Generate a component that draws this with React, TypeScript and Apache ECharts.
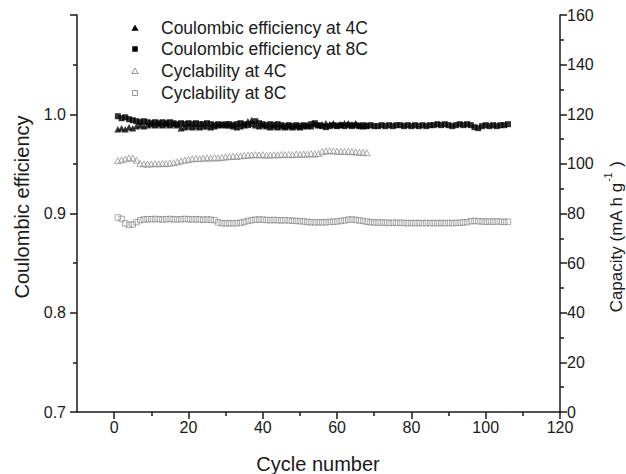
import React, { useEffect, useRef } from "react";
import * as echarts from "echarts";

// ---- Data ----
const ce4C: number[] = [
  0.985, 0.986, 0.985, 0.987, 0.986, 0.988, 0.989, 0.988, 0.989, 0.990,
  0.989, 0.990, 0.989, 0.990, 0.989, 0.990, 0.989, 0.986, 0.987, 0.988,
  0.987, 0.988, 0.987, 0.988, 0.988, 0.987, 0.988, 0.989, 0.990, 0.989,
  0.989, 0.988, 0.987, 0.988, 0.989, 0.993, 0.994, 0.989, 0.988, 0.989,
  0.988, 0.987, 0.988, 0.987, 0.988, 0.987, 0.988, 0.987, 0.988, 0.987,
  0.988, 0.989, 0.988, 0.990, 0.989, 0.990, 0.991, 0.990, 0.991, 0.989,
  0.990, 0.991, 0.991, 0.990, 0.991, 0.989, 0.988, 0.989,
];

const ce8C: number[] = [
  0.998, 0.996, 0.997, 0.995, 0.994, 0.993, 0.992, 0.993, 0.992, 0.991,
  0.992, 0.991, 0.992, 0.991, 0.992, 0.991, 0.990, 0.991, 0.990, 0.991,
  0.990, 0.991, 0.990, 0.990, 0.991, 0.990, 0.989, 0.990, 0.989, 0.990,
  0.990, 0.989, 0.990, 0.991, 0.990, 0.989, 0.990, 0.993, 0.991, 0.990,
  0.989, 0.990, 0.989, 0.990, 0.989, 0.988, 0.989, 0.988, 0.989, 0.988,
  0.989, 0.988, 0.990, 0.991, 0.989, 0.988, 0.987, 0.988, 0.989, 0.988,
  0.989, 0.988, 0.989, 0.988, 0.989, 0.988, 0.989, 0.988, 0.989, 0.988,
  0.988, 0.989, 0.988, 0.989, 0.988, 0.989, 0.989, 0.988, 0.989, 0.988,
  0.989, 0.988, 0.989, 0.988, 0.989, 0.989, 0.990, 0.989, 0.990, 0.989,
  0.988, 0.989, 0.990, 0.989, 0.990, 0.989, 0.987, 0.986, 0.988, 0.989,
  0.988, 0.989, 0.988, 0.989, 0.989, 0.990,
];

const cap4C: number[] = [
  101.3, 101.6, 102.0, 102.4, 102.3, 101.5,
  100.2, 100.0, 99.9, 100.0, 100.1, 100.0, 100.2, 100.1, 100.3, 100.5,
  100.8, 101.2, 101.5, 101.8, 102.0, 102.2, 102.1, 102.3, 102.4, 102.3,
  102.5, 102.4, 102.6, 102.8, 102.9, 103.1, 103.0, 103.2, 103.4, 103.5,
  103.6, 103.7, 103.6, 103.7, 103.5, 103.6, 103.7, 103.6, 103.8, 103.7,
  103.8, 103.7, 103.9, 103.8, 104.0, 103.9, 104.1, 104.0, 104.2, 104.9,
  105.2, 105.3, 105.2, 105.1, 105.0, 105.1, 105.0, 104.9, 104.8, 104.7, 104.6, 104.5,
];

const cap8C: number[] = [
  78.4, 77.8,
  76.0, 75.4, 75.6, 76.5,
  77.3, 77.6, 77.7, 77.7, 77.8, 77.7, 77.6, 77.7, 77.8, 77.7, 77.6, 77.7, 77.8, 77.7, 77.6, 77.7, 77.6, 77.5, 77.6, 77.5, 77.3,
  76.4, 76.1, 76.0, 76.1, 76.0, 76.1, 76.3, 76.6, 77.0,
  77.3, 77.5, 77.6, 77.5, 77.4, 77.3, 77.4, 77.3, 77.2, 77.3, 77.2, 77.1, 77.0, 76.9, 76.8,
  76.6, 76.5, 76.4, 76.5, 76.4, 76.5, 76.6, 76.7, 76.8, 77.0, 77.2,
  77.5, 77.6, 77.4, 77.2, 77.0, 76.7,
  76.5, 76.4, 76.3, 76.4, 76.3, 76.2, 76.3, 76.2, 76.3, 76.2,
  76.1, 76.2, 76.1, 76.2, 76.1, 76.2, 76.1, 76.2, 76.1, 76.2,
  76.1, 76.2, 76.1, 76.2, 76.3, 76.4, 76.5,
  76.9, 77.0, 76.9, 76.8, 76.7, 76.8, 76.7, 76.8, 76.7, 76.6, 76.7,
];

const xMajorTicks: number[] = [0, 20, 40, 60, 80, 100, 120];
const xMinorTicks: number[] = [10, 30, 50, 70, 90, 110];
const legendNames: string[] = [
  "Coulombic efficiency at 4C",
  "Coulombic efficiency at 8C",
  "Cyclability at 4C",
  "Cyclability at 8C",
];

const FONT = "'Liberation Sans', Arial, Helvetica, sans-serif";
const INK = "#1a1a1a";
const GRAY = "#7a7a7a";

const toPairs = (arr: number[]) => arr.map((v, i) => [i + 1, v]);

export default function App() {
  const ref = useRef<HTMLDivElement>(null);

  useEffect(() => {
    if (!ref.current) return;
    const chart = echarts.init(ref.current, null, { renderer: "svg" });

    const axisLineStyle = { color: INK, width: 1.5 };
    const labelStyle = { color: INK, fontSize: 16, fontFamily: FONT, lineHeight: 14 };

    const legendRowsY = [28, 49, 71, 93];
    const iconX = 135;
    const textX = 161;

    const legendGraphics: any[] = [];
    legendNames.forEach((name, i) => {
      const cy = legendRowsY[i];
      let icon: any;
      if (i === 0 || i === 2) {
        icon = {
          type: "polygon",
          shape: { points: [[iconX, cy - 3], [iconX + 3.2, cy + 2.5], [iconX - 3.2, cy + 2.5]] },
          style: i === 0 ? { fill: "#000", stroke: "#000", lineWidth: 0.5 } : { fill: "none", stroke: GRAY, lineWidth: 0.8 },
        };
      } else {
        icon = {
          type: "rect",
          shape: { x: iconX - 2.5, y: cy - 2.5, width: 5, height: 5 },
          style: i === 1 ? { fill: "#000", stroke: "#000", lineWidth: 0.5 } : { fill: "none", stroke: GRAY, lineWidth: 0.8 },
        };
      }
      legendGraphics.push(icon);
      legendGraphics.push({
        type: "text",
        x: textX,
        y: cy,
        style: {
          text: name,
          fill: INK,
          fontSize: 17.5,
          fontFamily: FONT,
          align: "left",
          textAlign: "left",
          verticalAlign: "middle",
          textVerticalAlign: "middle",
        },
      });
    });

    const option: any = {
      animation: false,
      backgroundColor: "#ffffff",
      grid: { left: 77, right: 66, top: 15, bottom: 62, containLabel: false },
      xAxis: [
        {
          type: "value",
          min: -10,
          max: 120,
          position: "bottom",
          axisLine: { show: true, onZero: false, lineStyle: axisLineStyle },
          axisTick: { show: true, customValues: xMajorTicks, length: 7, lineStyle: axisLineStyle },
          axisLabel: { show: true, customValues: xMajorTicks, margin: 8, ...labelStyle },
          splitLine: { show: false },
        },
        {
          type: "value",
          min: -10,
          max: 120,
          position: "bottom",
          axisLine: { show: false, onZero: false },
          axisTick: { show: true, customValues: xMinorTicks, length: 4, lineStyle: axisLineStyle },
          axisLabel: { show: false },
          splitLine: { show: false },
        },
      ],
      yAxis: [
        {
          type: "value",
          min: 0.7,
          max: 1.1,
          interval: 0.1,
          position: "left",
          axisLine: { show: true, onZero: false, lineStyle: axisLineStyle },
          axisTick: { show: true, length: 7, lineStyle: axisLineStyle },
          minorTick: { show: true, splitNumber: 2, length: 4, lineStyle: axisLineStyle },
          axisLabel: {
            margin: 11,
            ...labelStyle,
            formatter: (v: number) => (v > 1.05 ? "" : v.toFixed(1)),
          },
          splitLine: { show: false },
        },
        {
          type: "value",
          min: 0,
          max: 160,
          interval: 20,
          position: "right",
          axisLine: { show: true, onZero: false, lineStyle: axisLineStyle },
          axisTick: { show: true, length: 7, lineStyle: axisLineStyle },
          minorTick: { show: true, splitNumber: 2, length: 4, lineStyle: axisLineStyle },
          axisLabel: { margin: 7, ...labelStyle },
          splitLine: { show: false },
        },
      ],
      series: [
        {
          name: legendNames[0],
          type: "scatter",
          xAxisIndex: 0,
          yAxisIndex: 0,
          symbol: "triangle",
          symbolSize: [7, 6.5],
          itemStyle: { color: "#000" },
          data: toPairs(ce4C),
        },
        {
          name: legendNames[1],
          type: "scatter",
          xAxisIndex: 0,
          yAxisIndex: 0,
          symbol: "rect",
          symbolSize: 6,
          itemStyle: { color: "#000" },
          data: toPairs(ce8C),
        },
        {
          name: legendNames[2],
          type: "scatter",
          xAxisIndex: 0,
          yAxisIndex: 1,
          symbol: "triangle",
          symbolSize: [6.5, 6],
          itemStyle: { color: "rgba(0,0,0,0)", borderColor: GRAY, borderWidth: 0.8 },
          data: toPairs(cap4C),
        },
        {
          name: legendNames[3],
          type: "scatter",
          xAxisIndex: 0,
          yAxisIndex: 1,
          symbol: "rect",
          symbolSize: 5.5,
          itemStyle: { color: "rgba(0,0,0,0)", borderColor: GRAY, borderWidth: 0.8 },
          data: toPairs(cap8C),
        },
      ],
      graphic: [
        {
          type: "text",
          x: 22,
          y: 207,
          rotation: Math.PI / 2,
          style: {
            text: "Coulombic efficiency",
            fill: INK,
            fontSize: 20,
            fontFamily: FONT,
            align: "center",
            textAlign: "center",
            verticalAlign: "middle",
            textVerticalAlign: "middle",
          },
        },
        {
          type: "text",
          x: 318,
          y: 464,
          style: {
            text: "Cycle number",
            fill: INK,
            fontSize: 20,
            fontFamily: FONT,
            align: "center",
            textAlign: "center",
            verticalAlign: "middle",
            textVerticalAlign: "middle",
          },
        },
        {
          type: "text",
          x: 614,
          y: 237,
          rotation: Math.PI / 2,
          style: {
            text: "{n|Capacity (mA h g}{sup|-1}{n| )}",
            fill: INK,
            fontFamily: FONT,
            fontSize: 17,
            align: "center",
            textAlign: "center",
            verticalAlign: "middle",
            textVerticalAlign: "middle",
            rich: {
              n: { fontSize: 17, fontFamily: FONT, fill: INK, lineHeight: 22, verticalAlign: "bottom" },
              sup: { fontSize: 10, fontFamily: FONT, fill: INK, lineHeight: 22, verticalAlign: "top", padding: [0, 1, 0, 1] },
            },
          },
        },
        ...legendGraphics,
      ],
    };

    chart.setOption(option);
    return () => {
      chart.dispose();
    };
  }, []);

  return (
    <div
      ref={ref}
      style={{ position: "fixed", left: 0, top: 0, width: 626, height: 474, background: "#fff" }}
    />
  );
}
